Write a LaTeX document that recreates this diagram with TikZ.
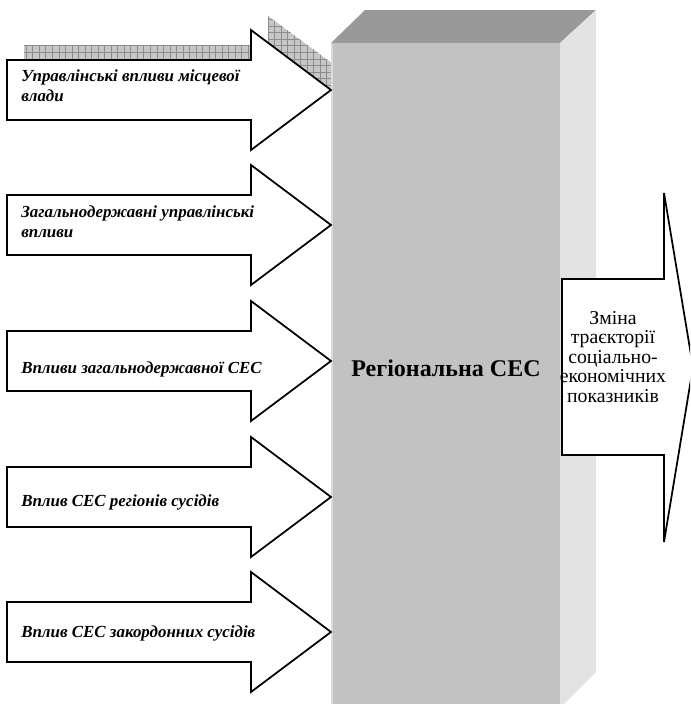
\documentclass[tikz,border=0pt]{standalone}
\usepackage{fontspec}
\setmainfont{Liberation Serif}
\usetikzlibrary{calc}

\begin{document}
\begin{tikzpicture}[x=0.75pt,y=-0.75pt,
  inarrow/.style={draw=black,line width=1.3pt,fill=white,line join=miter},
  intext/.style={anchor=west,align=left,inner sep=0pt,font=\fontsize{12.7}{15}\selectfont\bfseries\itshape},
  outtext/.style={align=center,inner sep=0pt,font=\fontsize{14.8}{14.6}\selectfont}]
\useasboundingbox (0,0) rectangle (690,704);
\clip (0,0) rectangle (690,704);
% hatched shadow of the first arrow
\begin{scope}
\clip (24,45) -- (268,45) -- (268,16) -- (348,75) -- (268,135) -- (268,105) -- (24,105) -- cycle;
\fill[black!22] (0,0) rectangle (360,160);
\draw[black!45,line width=0.4pt,step=4.9pt] (0,0) grid (360,160);
\end{scope}
% the block
\fill[black!40] (331,43) -- (365,10) -- (596,10) -- (560,43) -- cycle;
\fill[black!11] (560,43) -- (596,10) -- (596,672) -- (560,708) -- cycle;
\fill[black!24] (331,43) rectangle (560,708);
\draw[black!14,line width=1.2pt] (332,44) -- (332,708);
\node[font=\fontsize{18}{20}\selectfont\bfseries] (region) at (446,368) {Регіональна СЕС};
% incoming arrows
\foreach \y in {90,225,361,497,632}
  \draw[inarrow] (7,\y-30) -- (251,\y-30) -- (251,\y-60) -- (331,\y) -- (251,\y+60) -- (251,\y+30) -- (7,\y+30) -- cycle;
\node[intext] (infl1) at (21,86) {Управлінські впливи місцевої\\влади};
\node[intext] (infl2) at (21,222) {Загальнодержавні управлінські\\впливи};
\node[intext] (infl3) at (21,369) {Впливи загальнодержавної СЕС};
\node[intext] (infl4) at (21,502) {Вплив СЕС регіонів сусідів};
\node[intext] (infl5) at (21,633) {Вплив СЕС закордонних сусідів};
% outgoing arrow
\draw[inarrow] (562,279) -- (664,279) -- (664,193) -- (693,367) -- (664,542) -- (664,455) -- (562,455) -- cycle;
\node[outtext] (result) at (613,357) {Зміна\\траєкторії\\соціально-\\економічних\\показників};
\end{tikzpicture}
\end{document}
